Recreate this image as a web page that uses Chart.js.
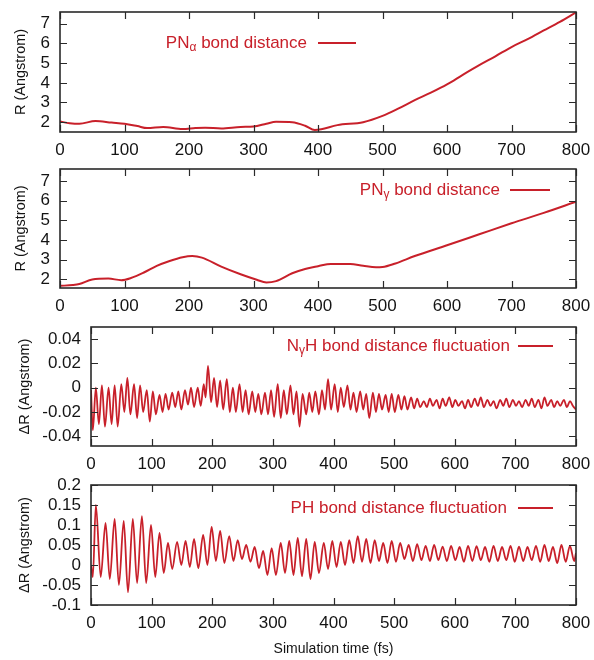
<!DOCTYPE html>
<html>
<head>
<meta charset="utf-8">
<script src="https://cdn.jsdelivr.net/npm/chart.js@4.4.1/dist/chart.umd.min.js"></script>
<style>
  html, body { margin: 0; padding: 0; background: #fff; }
  #wrap { position: relative; width: 594px; height: 660px; }
  #wrap canvas { position: absolute; left: 0; }
</style>
</head>
<body>
<div id="wrap">
  <canvas id="panel-pna" width="594" height="160" style="top:0px"></canvas>
  <canvas id="panel-png" width="594" height="158" style="top:160px"></canvas>
  <canvas id="panel-nh" width="594" height="158" style="top:318px"></canvas>
  <canvas id="panel-ph" width="594" height="184" style="top:476px"></canvas>
</div>
<script>
// PN-alpha bond distance (Angstrom) vs time (fs)
const pnAlphaTime = [0, 15, 30, 55, 80, 100, 120, 135, 160, 190, 210, 225, 250, 280, 300, 320, 335, 360, 380, 395,
  405, 430, 470, 500, 525, 550, 575, 600, 625, 650, 675, 700, 725, 750, 775, 800];
const pnAlphaR = [2.03, 1.95, 1.92, 2.06, 1.98, 1.92, 1.8, 1.7, 1.76, 1.65, 1.7, 1.72, 1.68, 1.76, 1.78, 1.92, 2.02, 2.0, 1.82, 1.6,
  1.64, 1.85, 2.0, 2.32, 2.7, 3.12, 3.5, 3.92, 4.42, 4.9, 5.35, 5.82, 6.22, 6.66, 7.1, 7.58];

// PN-gamma bond distance
const pnGammaTime = [0, 20, 30, 50, 75, 95, 110, 130, 150, 170, 190, 205, 220, 250, 280, 305, 320, 335, 360, 380,
  400, 420, 450, 470, 490, 500, 520, 550, 600, 650, 700, 750, 800];
const pnGammaR = [1.66, 1.7, 1.75, 1.98, 2.03, 1.95, 2.06, 2.34, 2.68, 2.93, 3.12, 3.18, 3.1, 2.64, 2.25, 1.97, 1.83, 1.9, 2.3, 2.52,
  2.66, 2.78, 2.77, 2.68, 2.61, 2.62, 2.8, 3.18, 3.73, 4.29, 4.85, 5.38, 5.95];

// N-gamma H bond distance fluctuation (turning points)
const nhTime = [
  0, 3, 8, 13, 18, 23, 29, 34, 39, 44,
  50, 55, 60, 65, 71, 76, 81, 86, 92, 97,
  102, 107, 113, 118, 123, 128, 134, 139, 144, 149,
  155, 160, 165, 170, 176, 181, 186, 189, 193, 198,
  203, 208, 213, 218, 224, 229, 234, 239, 245, 250,
  255, 260, 266, 271, 276, 281, 287, 292, 297, 302,
  308, 313, 318, 323, 329, 334, 339, 344, 349, 355,
  360, 365, 370, 376, 381, 386, 391, 396, 402, 407,
  412, 417, 423, 428, 433, 438, 444, 449, 454, 459,
  465, 470, 475, 480, 486, 491, 496, 501, 507, 512,
  517, 522, 528, 533, 538, 543, 549, 554, 559, 564,
  570, 575, 580, 585, 591, 596, 601, 606, 612, 617,
  622, 627, 633, 638, 643, 648, 654, 659, 664, 669,
  675, 680, 685, 690, 696, 701, 706, 711, 717, 722,
  727, 732, 738, 743, 748, 753, 759, 764, 769, 774,
  780, 785, 790, 795, 800];
const nhDelta = [
  -0.002, -0.035, 0.0, -0.03, 0.002, -0.032, 0.0, -0.03, 0.002, -0.032,
  0.003, -0.02, 0.008, -0.022, 0.003, -0.025, 0.002, -0.02, -0.002, -0.028,
  -0.003, -0.022, -0.006, -0.02, -0.005, -0.018, -0.004, -0.016, -0.003, -0.018,
  -0.002, -0.014, 0.0, -0.016, 0.0, -0.015, 0.003, -0.008, 0.018, -0.012,
  0.008, -0.016, 0.006, -0.018, 0.007, -0.02, 0.0, -0.02, 0.003, -0.02,
  -0.002, -0.022, -0.003, -0.02, -0.005, -0.022, -0.004, -0.022, -0.002, -0.024,
  0.003, -0.025, -0.002, -0.022, 0.002, -0.022, -0.003, -0.032, -0.005, -0.022,
  -0.004, -0.02, -0.003, -0.022, -0.002, -0.018, 0.007, -0.018, 0.003, -0.02,
  0.0, -0.016, 0.002, -0.018, -0.004, -0.02, -0.003, -0.018, -0.005, -0.025,
  -0.004, -0.02, -0.005, -0.018, -0.006, -0.02, -0.005, -0.02, -0.006, -0.018,
  -0.007, -0.018, -0.008, -0.017, -0.009, -0.016, -0.011, -0.016, -0.009, -0.015,
  -0.010, -0.017, -0.009, -0.015, -0.008, -0.016, -0.010, -0.015, -0.011, -0.017,
  -0.010, -0.016, -0.009, -0.015, -0.008, -0.016, -0.010, -0.015, -0.011, -0.017,
  -0.010, -0.015, -0.009, -0.016, -0.010, -0.015, -0.011, -0.016, -0.010, -0.015,
  -0.009, -0.016, -0.010, -0.017, -0.008, -0.015, -0.010, -0.016, -0.011, -0.015,
  -0.010, -0.016, -0.011, -0.015, -0.018];

// PH bond distance fluctuation (turning points)
const phTime = [
  0, 3, 8, 16, 24, 31, 39, 46, 54, 61,
  69, 76, 84, 91, 99, 106, 113, 120, 127, 134,
  142, 149, 156, 163, 170, 177, 185, 192, 199, 206,
  213, 220, 228, 235, 242, 249, 256, 263, 270, 277,
  284, 291, 298, 305, 313, 320, 327, 334, 341, 348,
  355, 362, 369, 376, 384, 391, 398, 405, 412, 419,
  426, 433, 440, 447, 454, 461, 468, 475, 482, 489,
  496, 503, 510, 517, 524, 531, 538, 545, 552, 559,
  566, 573, 580, 587, 594, 601, 608, 615, 622, 629,
  636, 643, 650, 657, 664, 671, 678, 685, 692, 699,
  706, 713, 720, 727, 734, 741, 748, 755, 762, 769,
  776, 783, 790, 797, 800];
const phDelta = [
  0.0, -0.03, 0.15, -0.03, 0.105, -0.035, 0.115, -0.05, 0.11, -0.068,
  0.115, -0.045, 0.122, -0.045, 0.10, -0.03, 0.08, -0.02, 0.055, -0.01,
  0.058, 0.0, 0.06, -0.005, 0.065, -0.008, 0.075, 0.0, 0.095, 0.01,
  0.085, 0.005, 0.072, 0.01, 0.062, 0.015, 0.05, 0.008, 0.045, -0.008,
  0.035, -0.025, 0.042, -0.025, 0.055, -0.02, 0.06, -0.025, 0.068, -0.028,
  0.065, -0.035, 0.058, -0.02, 0.055, -0.01, 0.06, -0.005, 0.058, 0.0,
  0.062, 0.005, 0.072, 0.008, 0.065, 0.005, 0.062, 0.01, 0.055, 0.005,
  0.06, 0.008, 0.055, 0.015, 0.05, 0.01, 0.052, 0.012, 0.048, 0.01,
  0.05, 0.012, 0.046, 0.01, 0.048, 0.012, 0.045, 0.008, 0.048, 0.01,
  0.047, 0.012, 0.045, 0.008, 0.048, 0.01, 0.045, 0.012, 0.048, 0.008,
  0.046, 0.01, 0.045, 0.012, 0.048, 0.008, 0.05, 0.01, 0.045, 0.005,
  0.05, 0.008, 0.048, 0.01, 0.03];

// tick values
const timeTicks = [0, 100, 200, 300, 400, 500, 600, 700, 800];
const distanceTicks = [2, 3, 4, 5, 6, 7];
const nhTicks = [-0.04, -0.02, 0, 0.02, 0.04];
const phTicks = [-0.1, -0.05, 0, 0.05, 0.1, 0.15, 0.2];

const RED = '#c8202a';
const INK = '#141414';
const FAMILY = '"Liberation Sans", Arial, Helvetica, sans-serif';

/**
 * gnuplot-style frame with inward ticks on all four sides.
 */
const frameTicks = {
  id: 'frameTicks',
  afterDatasetsDraw(chart) {
    const { ctx, chartArea: a, scales: { x, y } } = chart;
    ctx.save();
    ctx.strokeStyle = '#2a2a2a';
    ctx.lineWidth = 1.2;
    ctx.beginPath();
    x.ticks.forEach(t => {
      const px = Math.round(x.getPixelForValue(t.value)) + 0.5;
      ctx.moveTo(px, a.bottom); ctx.lineTo(px, a.bottom - 7);
      ctx.moveTo(px, a.top); ctx.lineTo(px, a.top + 7);
    });
    y.ticks.forEach(t => {
      const py = Math.round(y.getPixelForValue(t.value)) + 0.5;
      ctx.moveTo(a.left, py); ctx.lineTo(a.left + 7, py);
      ctx.moveTo(a.right, py); ctx.lineTo(a.right - 7, py);
    });
    ctx.stroke();
    ctx.lineWidth = 1.6;
    ctx.strokeRect(a.left, a.top, a.right - a.left, a.bottom - a.top);
    ctx.restore();
  }
};

/**
 * gnuplot key: right-aligned label (with subscripts) followed by a line sample.
 */
const keyPlugin = {
  id: 'key',
  afterDraw(chart, args, o) {
    if (!o || !o.parts) return;
    const ctx = chart.ctx;
    const main = `17px ${FAMILY}`;
    const sub = `12px ${FAMILY}`;
    ctx.save();
    ctx.fillStyle = RED;
    ctx.textBaseline = 'middle';
    let w = 0;
    o.parts.forEach(p => { ctx.font = p.sub ? sub : main; w += ctx.measureText(p.text).width; });
    let x = o.textRight - w;
    o.parts.forEach(p => {
      ctx.font = p.sub ? sub : main;
      ctx.fillText(p.text, x, o.y + (p.sub ? 5 : 0));
      x += ctx.measureText(p.text).width;
    });
    ctx.strokeStyle = RED;
    ctx.lineWidth = 2;
    ctx.beginPath();
    ctx.moveTo(o.lineFrom, o.y);
    ctx.lineTo(o.lineTo, o.y);
    ctx.stroke();
    ctx.restore();
  }
};

// drop the label-overflow padding so the plot box sits exactly where layout puts it
function noOverflow(s) {
  s.paddingTop = 0; s.paddingBottom = 0; s.paddingLeft = 0; s.paddingRight = 0;
}

function makePanel(canvasId, cfg) {
  const canvas = document.getElementById(canvasId);
  return new Chart(canvas.getContext('2d'), {
    type: 'line',
    data: {
      datasets: [{
        data: cfg.time.map((t, i) => ({ x: t, y: cfg.values[i] })),
        borderColor: RED,
        borderWidth: cfg.lineWidth,
        pointRadius: 0,
        cubicInterpolationMode: 'monotone',
        fill: false
      }]
    },
    options: {
      responsive: false,
      animation: false,
      events: [],
      layout: { padding: { top: cfg.padTop, right: 18, left: 0, bottom: 0 } },
      plugins: {
        legend: { display: false },
        tooltip: { enabled: false },
        key: cfg.key
      },
      scales: {
        x: {
          type: 'linear',
          min: 0,
          max: 800,
          afterBuildTicks: s => { s.ticks = timeTicks.map(v => ({ value: v })); },
          afterFit: s => { s.height = cfg.xHeight; noOverflow(s); },
          grid: { display: false, drawTicks: false },
          border: { display: false },
          ticks: { padding: 8, color: INK, font: { family: FAMILY, size: 17 }, maxRotation: 0, autoSkip: false, callback: v => String(v) },
          title: cfg.xTitle ? {
            display: true, text: cfg.xTitle, color: INK,
            font: { family: FAMILY, size: 14 }, padding: { bottom: 2 }
          } : { display: false }
        },
        y: {
          type: 'linear',
          min: cfg.yMin,
          max: cfg.yMax,
          afterBuildTicks: s => { s.ticks = cfg.yTicks.map(v => ({ value: v })); },
          afterFit: s => { s.width = cfg.plotLeft; noOverflow(s); },
          grid: { display: false, drawTicks: false },
          border: { display: false },
          ticks: { padding: 10, color: INK, font: { family: FAMILY, size: 17 }, autoSkip: false, callback: v => String(v) },
          title: {
            display: true, text: cfg.yTitle, color: INK,
            font: { family: FAMILY, size: 14.5 }, padding: { top: cfg.titlePad }
          }
        }
      }
    },
    plugins: [frameTicks, keyPlugin]
  });
}

makePanel('panel-pna', {
  time: pnAlphaTime, values: pnAlphaR, lineWidth: 2,
  padTop: 12, xHeight: 28, plotLeft: 60, titlePad: 12.5,
  yMin: 1.5, yMax: 7.6, yTicks: distanceTicks, yTitle: 'R (Angstrom)',
  key: { parts: [{ text: 'PN' }, { text: 'α', sub: true }, { text: ' bond distance' }], textRight: 307, y: 43, lineFrom: 318, lineTo: 356 }
});

makePanel('panel-png', {
  time: pnGammaTime, values: pnGammaR, lineWidth: 2,
  padTop: 9, xHeight: 30, plotLeft: 60, titlePad: 12.5,
  yMin: 1.55, yMax: 7.62, yTicks: distanceTicks, yTitle: 'R (Angstrom)',
  key: { parts: [{ text: 'PN' }, { text: 'γ', sub: true }, { text: ' bond distance' }], textRight: 500, y: 30, lineFrom: 510, lineTo: 550 }
});

makePanel('panel-nh', {
  time: nhTime, values: nhDelta, lineWidth: 1.8,
  padTop: 9, xHeight: 30, plotLeft: 91, titlePad: 16.5,
  yMin: -0.048, yMax: 0.05, yTicks: nhTicks, yTitle: 'ΔR (Angstrom)',
  key: { parts: [{ text: 'N' }, { text: 'γ', sub: true }, { text: 'H bond distance fluctuation' }], textRight: 510, y: 28, lineFrom: 518, lineTo: 553 }
});

makePanel('panel-ph', {
  time: phTime, values: phDelta, lineWidth: 1.8,
  padTop: 9, xHeight: 55, plotLeft: 91, titlePad: 16.5,
  yMin: -0.1, yMax: 0.2, yTicks: phTicks, yTitle: 'ΔR (Angstrom)', xTitle: 'Simulation time (fs)',
  key: { parts: [{ text: 'PH bond distance fluctuation' }], textRight: 507, y: 32, lineFrom: 518, lineTo: 553 }
});
</script>
</body>
</html>
